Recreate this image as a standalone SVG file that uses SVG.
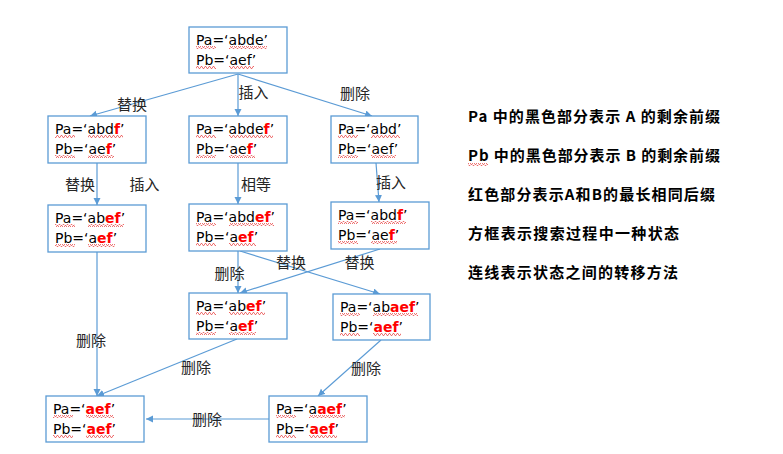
<svg xmlns="http://www.w3.org/2000/svg" width="783" height="454" viewBox="0 0 783 454">
<defs>
<style>
.frame{fill:#fff;stroke:#5B9BD5;stroke-width:1.3}
.box text{font-family:"DejaVu Sans",sans-serif;font-size:14px;fill:#000}
.r{fill:#FF0000;font-weight:bold}
.sq{fill:url(#squig);stroke:none}
.conn line{stroke:#5B9BD5;stroke-width:1.2;marker-end:url(#arr)}
.lbl{font-family:"Noto Sans CJK SC",sans-serif;font-size:15px;fill:#262626;text-anchor:middle}
.leg{font-family:"Noto Sans CJK SC",sans-serif;font-size:15px;font-weight:bold;fill:#000}
</style>
<marker id="arr" markerUnits="userSpaceOnUse" markerWidth="8" markerHeight="8" refX="7" refY="3.5" orient="auto">
<path d="M0,0 L7,3.5 L0,7 z" fill="#5B9BD5"/>
</marker>
<pattern id="squig" patternUnits="userSpaceOnUse" width="4" height="3">
<polyline points="0,2.5 1,0.5 2,0.5 3,2.5 4,2.5" fill="none" stroke="#E85050" stroke-width="0.8"/>
</pattern>
</defs>
<rect width="783" height="454" fill="#fff"/>

<g id="connectors" class="conn">
<line x1="238" y1="74" x2="90" y2="116"/>
<line x1="238" y1="74" x2="238" y2="116"/>
<line x1="238" y1="74" x2="372" y2="116"/>
<line x1="97" y1="163" x2="97" y2="205"/>
<line x1="238" y1="163" x2="238" y2="204"/>
<line x1="376" y1="163" x2="379" y2="202"/>
<line x1="238" y1="251" x2="238" y2="293"/>
<line x1="240" y1="251" x2="380" y2="294"/>
<line x1="380" y1="249" x2="240" y2="293"/>
<line x1="97" y1="252" x2="97" y2="396"/>
<line x1="237" y1="339" x2="97" y2="396"/>
<line x1="381" y1="340" x2="318" y2="396"/>
<line x1="269" y1="419" x2="146" y2="419"/>
</g>

<g id="labels">
<text class="lbl" x="132" y="110">替换</text>
<text class="lbl" x="253.5" y="98">插入</text>
<text class="lbl" x="355" y="99">删除</text>
<text class="lbl" x="80" y="190">替换</text>
<text class="lbl" x="144.5" y="190">插入</text>
<text class="lbl" x="256" y="190">相等</text>
<text class="lbl" x="391" y="188">插入</text>
<text class="lbl" x="229.5" y="279">删除</text>
<text class="lbl" x="291" y="268">替换</text>
<text class="lbl" x="359.5" y="268">替换</text>
<text class="lbl" x="91" y="346">删除</text>
<text class="lbl" x="196" y="373">删除</text>
<text class="lbl" x="366" y="374">删除</text>
<text class="lbl" x="207" y="425">删除</text>
</g>

<g id="n0" class="box">
<rect class="frame" x="189" y="27" width="98" height="46"/>
<rect class="sq" x="196" y="46" width="20" height="3"/><rect class="sq" x="229" y="46" width="38" height="3"/>
<rect class="sq" x="196" y="66" width="20" height="3"/><rect class="sq" x="229" y="66" width="25" height="3"/>
<text x="196" y="45">Pa=‘abde’</text>
<text x="196" y="65">Pb=‘aef’</text>
</g>

<g id="n1" class="box">
<rect class="frame" x="48" y="116" width="98" height="47"/>
<rect class="sq" x="55" y="135" width="20" height="3"/><rect class="sq" x="88" y="135" width="35" height="3"/>
<rect class="sq" x="55" y="155" width="20" height="3"/><rect class="sq" x="88" y="155" width="26" height="3"/>
<text x="55" y="134">Pa=‘abd<tspan class="r">f</tspan>’</text>
<text x="55" y="154">Pb=‘ae<tspan class="r">f</tspan>’</text>
</g>

<g id="n2" class="box">
<rect class="frame" x="189" y="116" width="98" height="47"/>
<rect class="sq" x="196" y="135" width="20" height="3"/><rect class="sq" x="229" y="135" width="44" height="3"/>
<rect class="sq" x="196" y="155" width="20" height="3"/><rect class="sq" x="229" y="155" width="26" height="3"/>
<text x="196" y="134">Pa=‘abde<tspan class="r">f</tspan>’</text>
<text x="196" y="154">Pb=‘ae<tspan class="r">f</tspan>’</text>
</g>

<g id="n3" class="box">
<rect class="frame" x="331" y="116" width="87" height="47"/>
<rect class="sq" x="338" y="135" width="20" height="3"/><rect class="sq" x="371" y="135" width="29" height="3"/>
<rect class="sq" x="338" y="155" width="20" height="3"/><rect class="sq" x="371" y="155" width="25" height="3"/>
<text x="338" y="134">Pa=‘abd’</text>
<text x="338" y="154">Pb=‘aef’</text>
</g>

<g id="n4" class="box">
<rect class="frame" x="48" y="205" width="98" height="47"/>
<rect class="sq" x="55" y="224" width="20" height="3"/><rect class="sq" x="88" y="224" width="36" height="3"/>
<rect class="sq" x="55" y="244" width="20" height="3"/><rect class="sq" x="88" y="244" width="27" height="3"/>
<text x="55" y="223">Pa=‘ab<tspan class="r">ef</tspan>’</text>
<text x="55" y="243">Pb=‘a<tspan class="r">ef</tspan>’</text>
</g>

<g id="n5" class="box">
<rect class="frame" x="189" y="204" width="98" height="47"/>
<rect class="sq" x="196" y="223" width="20" height="3"/><rect class="sq" x="229" y="223" width="45" height="3"/>
<rect class="sq" x="196" y="243" width="20" height="3"/><rect class="sq" x="229" y="243" width="27" height="3"/>
<text x="196" y="222">Pa=‘abd<tspan class="r">ef</tspan>’</text>
<text x="196" y="242">Pb=‘a<tspan class="r">ef</tspan>’</text>
</g>

<g id="n6" class="box">
<rect class="frame" x="331" y="202" width="98" height="47"/>
<rect class="sq" x="338" y="221" width="20" height="3"/><rect class="sq" x="371" y="221" width="35" height="3"/>
<rect class="sq" x="338" y="241" width="20" height="3"/><rect class="sq" x="371" y="241" width="26" height="3"/>
<text x="338" y="220">Pa=‘abd<tspan class="r">f</tspan>’</text>
<text x="338" y="240">Pb=‘ae<tspan class="r">f</tspan>’</text>
</g>

<g id="n7" class="box">
<rect class="frame" x="189" y="293" width="98" height="46"/>
<rect class="sq" x="196" y="312" width="20" height="3"/><rect class="sq" x="229" y="312" width="36" height="3"/>
<rect class="sq" x="196" y="332" width="20" height="3"/><rect class="sq" x="229" y="332" width="27" height="3"/>
<text x="196" y="311">Pa=‘ab<tspan class="r">ef</tspan>’</text>
<text x="196" y="331">Pb=‘a<tspan class="r">ef</tspan>’</text>
</g>

<g id="n8" class="box">
<rect class="frame" x="333" y="294" width="97" height="46"/>
<rect class="sq" x="340" y="313" width="20" height="3"/><rect class="sq" x="373" y="313" width="45" height="3"/>
<rect class="sq" x="340" y="333" width="20" height="3"/><rect class="sq" x="373" y="333" width="28" height="3"/>
<text x="340" y="312">Pa=‘ab<tspan class="r">aef</tspan>’</text>
<text x="340" y="332">Pb=‘<tspan class="r">aef</tspan>’</text>
</g>

<g id="n9" class="box">
<rect class="frame" x="46" y="396" width="98" height="46"/>
<rect class="sq" x="53" y="415" width="20" height="3"/><rect class="sq" x="86" y="415" width="28" height="3"/>
<rect class="sq" x="53" y="435" width="20" height="3"/><rect class="sq" x="86" y="435" width="28" height="3"/>
<text x="53" y="414">Pa=‘<tspan class="r">aef</tspan>’</text>
<text x="53" y="434">Pb=‘<tspan class="r">aef</tspan>’</text>
</g>

<g id="n10" class="box">
<rect class="frame" x="269" y="396" width="98" height="46"/>
<rect class="sq" x="276" y="415" width="20" height="3"/><rect class="sq" x="309" y="415" width="36" height="3"/>
<rect class="sq" x="276" y="435" width="20" height="3"/><rect class="sq" x="309" y="435" width="28" height="3"/>
<text x="276" y="414">Pa=‘a<tspan class="r">aef</tspan>’</text>
<text x="276" y="434">Pb=‘<tspan class="r">aef</tspan>’</text>
</g>

<g id="legend">
<text class="leg" x="468" y="122" textLength="252" lengthAdjust="spacing">Pa 中的黑色部分表示 A 的剩余前缀</text>
<rect class="sq" x="468" y="163" width="20" height="3"/>
<text class="leg" x="468" y="161" textLength="252" lengthAdjust="spacing">Pb 中的黑色部分表示 B 的剩余前缀</text>
<text class="leg" x="468" y="200" textLength="247" lengthAdjust="spacing">红色部分表示A和B的最长相同后缀</text>
<text class="leg" x="468" y="239" textLength="211" lengthAdjust="spacing">方框表示搜索过程中一种状态</text>
<text class="leg" x="468" y="278" textLength="210" lengthAdjust="spacing">连线表示状态之间的转移方法</text>
</g>
</svg>
